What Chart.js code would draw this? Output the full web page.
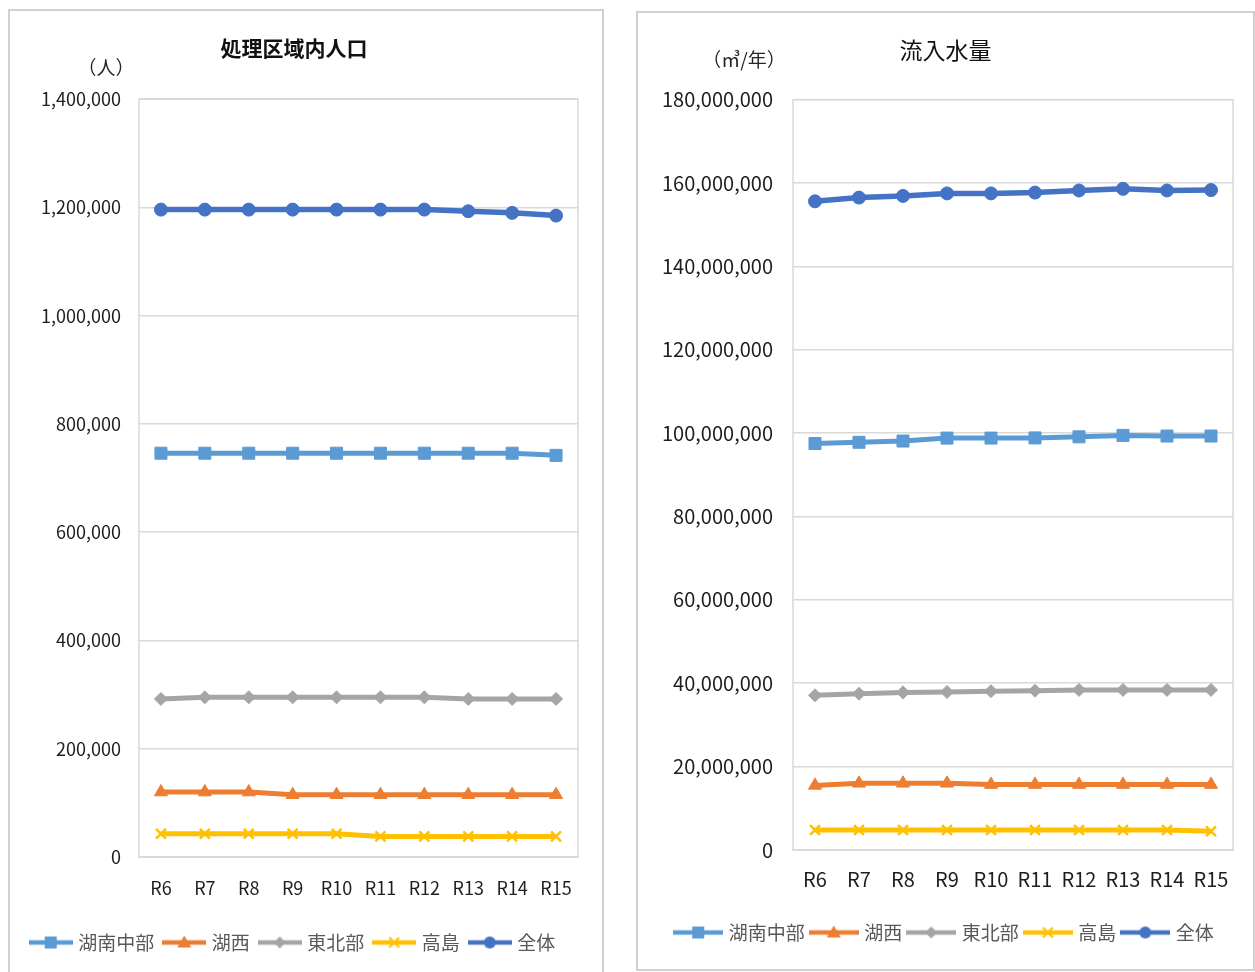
<!DOCTYPE html>
<html lang="ja">
<head>
<meta charset="utf-8">
<title>処理区域内人口・流入水量</title>
<script src="https://cdn.jsdelivr.net/npm/chart.js@4.4.1/dist/chart.umd.min.js"></script>
<style>
  body { margin: 0; background: #fff; width: 1255px; height: 972px; overflow: hidden; position: relative; }
  .box { position: absolute; border: 2px solid #d0d0d0; background: #fff; }
  #boxPop { left: 8px; top: 9px; width: 592px; height: 985px; }
  #boxFlow { left: 636px; top: 11px; width: 615px; height: 956px; }
  #wrapPop { position: relative; width: 592px; height: 961px; }
  #wrapFlow { position: relative; width: 615px; height: 956px; }
</style>
</head>
<body>
<div class="box" id="boxPop"><div id="wrapPop"><canvas id="graficoPop"></canvas></div></div>
<div class="box" id="boxFlow"><div id="wrapFlow"><canvas id="graficoFlow"></canvas></div></div>
<script>
const categorias = ['R6', 'R7', 'R8', 'R9', 'R10', 'R11', 'R12', 'R13', 'R14', 'R15'];
const series = ['湖南中部', '湖西', '東北部', '高島', '全体'];

// 処理区域内人口 (人)
const popKonan = [746000, 746000, 746000, 746000, 746000, 746000, 746000, 746000, 746000, 742000];
const popKosei = [120000, 120000, 120000, 115000, 115000, 115000, 115000, 115000, 115000, 115000];
const popTohoku = [292000, 295000, 295000, 295000, 295000, 295000, 295000, 292000, 292000, 292000];
const popTakashima = [43000, 43000, 43000, 43000, 43000, 38000, 38000, 38000, 38000, 38000];
const popTotal = [1196000, 1196000, 1196000, 1196000, 1196000, 1196000, 1196000, 1193000, 1190000, 1185000];
const popTicks = [0, 1400000, 200000];

// 流入水量 (㎥/年)
const flowKonan = [97500000, 97800000, 98100000, 98800000, 98800000, 98850000, 99100000, 99450000, 99300000, 99300000];
const flowKosei = [15500000, 16000000, 16000000, 16000000, 15700000, 15700000, 15700000, 15700000, 15700000, 15700000];
const flowTohoku = [37100000, 37500000, 37800000, 37900000, 38100000, 38200000, 38400000, 38400000, 38400000, 38400000];
const flowTakashima = [4800000, 4800000, 4800000, 4800000, 4800000, 4800000, 4800000, 4800000, 4800000, 4500000];
const flowTotal = [155600000, 156500000, 156900000, 157500000, 157500000, 157700000, 158200000, 158600000, 158200000, 158300000];
const flowTicks = [0, 180000000, 20000000];

const cores = ['#5b9bd5', '#ed7d31', '#a5a5a5', '#ffc000', '#4472c4'];
const marcadores = ['rect', 'triangle', 'rectRot', 'crossRot', 'circle'];
const raios = [8.5, 7.5, 6.5, 7, 6.5];

const fonteNum = "'Noto Sans CJK JP', sans-serif";
const fonteJp = "'Noto Sans CJK JP', sans-serif";

// icone da legenda: linha com o marcador no meio
function iconeLegenda(cor, estilo, w) {
  const c = document.createElement('canvas');
  c.width = w; c.height = 16;
  const g = c.getContext('2d');
  const m = w / 2;
  g.strokeStyle = cor; g.fillStyle = cor; g.lineWidth = 4.5;
  g.beginPath(); g.moveTo(0, 8); g.lineTo(w, 8); g.stroke();
  g.beginPath();
  if (estilo === 'rect') {
    g.fillRect(m - 6, 2, 12, 12);
  } else if (estilo === 'triangle') {
    g.moveTo(m, 1); g.lineTo(m + 7, 13); g.lineTo(m - 7, 13); g.closePath(); g.fill();
  } else if (estilo === 'rectRot') {
    g.moveTo(m, 2); g.lineTo(m + 6, 8); g.lineTo(m, 14); g.lineTo(m - 6, 8); g.closePath(); g.fill();
  } else if (estilo === 'crossRot') {
    g.lineWidth = 2;
    g.moveTo(m - 5, 3); g.lineTo(m + 5, 13); g.moveTo(m + 5, 3); g.lineTo(m - 5, 13); g.stroke();
  } else {
    g.arc(m, 8, 6, 0, Math.PI * 2); g.fill();
  }
  return c;
}

const molduraPlot = {
  id: 'molduraPlot',
  beforeDatasetsDraw(chart) {
    const { ctx, chartArea: a } = chart;
    ctx.save();
    ctx.strokeStyle = '#d9d9d9';
    ctx.lineWidth = 1.5;
    ctx.strokeRect(a.left, a.top, a.right - a.left, a.bottom - a.top);
    ctx.restore();
  },
  afterDraw(chart, args, opts) {
    const { ctx, chartArea: a } = chart;
    ctx.save();
    ctx.font = opts.fonte;
    ctx.fillStyle = '#262626';
    ctx.textAlign = 'center';
    ctx.textBaseline = 'middle';
    ctx.fillText(opts.texto, a.left + opts.dx, a.top + opts.dy);
    ctx.restore();
  }
};

function criarGrafico(id, valores, escala, cfg) {
  const icones = cores.map((c, i) => iconeLegenda(c, marcadores[i], cfg.iconeW));
  const datasets = series.map((nome, i) => ({
    label: nome,
    data: valores[i],
    borderColor: cores[i],
    backgroundColor: cores[i],
    borderWidth: i === 4 ? 5.5 : 5,
    pointStyle: marcadores[i],
    pointRadius: raios[i],
    pointBackgroundColor: cores[i],
    pointBorderColor: cores[i],
    pointBorderWidth: marcadores[i] === 'crossRot' ? 2.5 : 1,
    tension: 0,
    fill: false
  }));
  return new Chart(document.getElementById(id).getContext('2d'), {
    type: 'line',
    data: { labels: categorias, datasets: datasets },
    plugins: [molduraPlot],
    options: {
      responsive: true,
      maintainAspectRatio: false,
      animation: false,
      layout: { padding: cfg.padding },
      scales: {
        x: {
          offset: true,
          grid: { display: false, drawTicks: false },
          border: { color: '#d9d9d9', width: 1.5 },
          ticks: { padding: cfg.padX, color: '#1e1e1e', font: { family: fonteNum, size: cfg.tamNum }, maxRotation: 0, autoSkip: false },
          afterFit(s) { s.height = cfg.alturaX; }
        },
        y: {
          min: escala[0],
          max: escala[1],
          grid: { color: '#d9d9d9', lineWidth: 1.5, drawTicks: false },
          border: { display: false },
          ticks: {
            stepSize: escala[2],
            padding: cfg.padY,
            color: '#1e1e1e',
            font: { family: fonteNum, size: cfg.tamNum },
            callback: v => v.toLocaleString('en-US')
          },
          afterFit(s) { s.width = cfg.larguraY; }
        }
      },
      plugins: {
        title: {
          display: true,
          text: cfg.titulo,
          color: '#111',
          font: { family: fonteJp, size: cfg.tamTitulo, weight: cfg.pesoTitulo },
          padding: cfg.padTitulo
        },
        legend: {
          position: 'bottom',
          labels: {
            usePointStyle: true,
            pointStyleWidth: cfg.caixaW,
            boxHeight: 16,
            padding: cfg.padLegenda,
            color: '#595959',
            font: { family: fonteJp, size: 19 },
            generateLabels(chart) {
              const itens = Chart.defaults.plugins.legend.labels.generateLabels(chart);
              itens.forEach((it, i) => { it.pointStyle = icones[i]; });
              return itens;
            }
          }
        },
        tooltip: { enabled: false },
        molduraPlot: cfg.unidade
      }
    }
  });
}

criarGrafico('graficoPop', [popKonan, popKosei, popTohoku, popTakashima, popTotal], popTicks, {
  titulo: '処理区域内人口', tamTitulo: 21, pesoTitulo: 'bold', padTitulo: { top: 24, bottom: 39 },
  padding: { left: 0, right: 24, top: 0, bottom: 10 },
  larguraY: 129, alturaX: 64, padX: 20, padY: 18, tamNum: 18,
  caixaW: 36, iconeW: 44, padLegenda: 12,
  unidade: { texto: '（人）', dx: -33, dy: -31, fonte: "19px 'Noto Sans CJK JP'" }
});

criarGrafico('graficoFlow', [flowKonan, flowKosei, flowTohoku, flowTakashima, flowTotal], flowTicks, {
  titulo: '流入水量', tamTitulo: 23, pesoTitulo: 'normal', padTitulo: { top: 23, bottom: 36 },
  padding: { left: 20, right: 20, top: 0, bottom: 17 },
  larguraY: 135, alturaX: 65, padX: 17, padY: 20, tamNum: 20,
  caixaW: 42, iconeW: 50, padLegenda: 8,
  unidade: { texto: '（㎥/年）', dx: -49, dy: -40, fonte: "19px 'Noto Sans CJK JP'" }
});
</script>
</body>
</html>
